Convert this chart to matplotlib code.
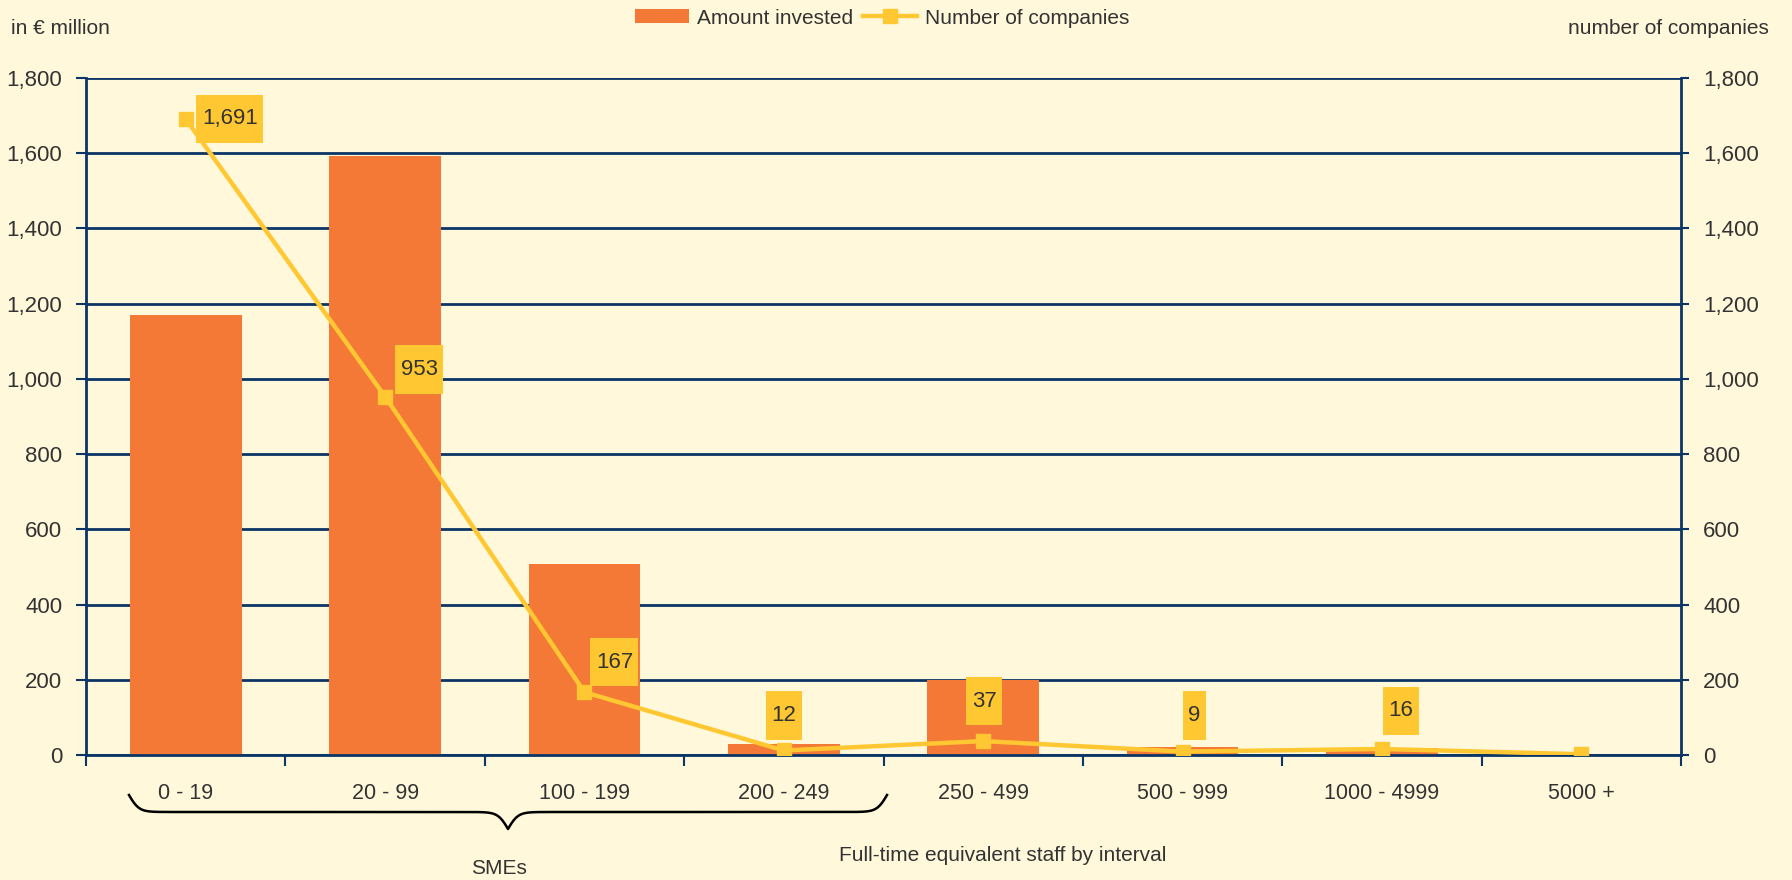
import numpy as np
import matplotlib
matplotlib.use("Agg")
import matplotlib.pyplot as plt
from matplotlib.path import Path
from matplotlib.lines import Line2D

plt.rcParams['font.family'] = ['Liberation Sans', 'DejaVu Sans']
plt.rcParams['font.size'] = 15

# data
categories = ['0 - 19', '20 - 99', '100 - 199', '200 - 249', '250 - 499',
              '500 - 999', '1000 - 4999', '5000 +']
amount_invested = [1171, 1592, 508, 29, 200, 22, 18, 0]      # in EUR million
num_companies = [1691, 953, 167, 12, 37, 9, 16, 2]
num_labels = ['1,691', '953', '167', '12', '37', '9', '16', None]

# label offsets from the marker, in pixels (dx, dy)
label_offsets = [(44, 0), (34, 27), (30, 30), (0, 35), (1, 40), (12, 36), (19, 38), (0, 0)]

BG = '#FFF8DA'
ORANGE = '#F47936'
YELLOW = '#FFC832'
NAVY = '#0B3566'
TXT = '#333333'

fig = plt.figure(figsize=(17.92, 8.8), dpi=100, facecolor=BG)
ax = fig.add_axes([86 / 1792, 1 - 755 / 880, (1681 - 86) / 1792, (755 - 78) / 880])
ax.set_facecolor(BG)
x = np.arange(len(categories))

bars = ax.bar(x, amount_invested, width=0.56, color=ORANGE, zorder=2, label='Amount invested')
ax.set_xlim(-0.5, len(categories) - 0.5)
ax.set_ylim(0, 1800)
ax.set_yticks(np.arange(0, 1801, 200))
ax.set_yticklabels([f'{v:,}' for v in range(0, 1801, 200)])
ax.grid(axis='y', color=NAVY, linewidth=2, zorder=0)
ax.set_axisbelow(True)

ax.set_xticks(x)
ax.set_xticklabels(categories)
ax.set_xticks(np.arange(-0.5, len(categories)), minor=True)
ax.tick_params(axis='x', which='major', length=0, pad=20, colors=TXT, labelsize=15.5)
ax.tick_params(axis='x', which='minor', length=8, width=1.5, color=NAVY)
ax.tick_params(axis='y', length=7, width=1.5, color=NAVY, labelcolor=TXT, pad=10, labelsize=16)
for s in ['left', 'right', 'bottom', 'top']:
    ax.spines[s].set_color(NAVY)
    ax.spines[s].set_linewidth(2)
ax.spines['top'].set_visible(False)

ax2 = ax.twinx()
ax2.set_ylim(0, 1800)
ax2.set_yticks(np.arange(0, 1801, 200))
ax2.set_yticklabels([f'{v:,}' for v in range(0, 1801, 200)])
ax2.tick_params(axis='y', length=6, width=1.5, color=NAVY, labelcolor=TXT, pad=10, labelsize=16)
for s in ['left', 'right', 'bottom', 'top']:
    ax2.spines[s].set_visible(False)

line, = ax2.plot(x, num_companies, color=YELLOW, linewidth=3.2, marker='s', markersize=10,
                 markerfacecolor=YELLOW, markeredgecolor=YELLOW, zorder=3,
                 label='Number of companies')


def tall_box(x0, y0, width, height, mutation_size):
    px = 0.24 * mutation_size
    py = 0.62 * mutation_size
    x0 -= px
    y0 -= py
    x1 = x0 + width + 2 * px
    y1 = y0 + height + 2 * py
    return Path([(x0, y0), (x1, y0), (x1, y1), (x0, y1), (x0, y0)], closed=True)


for i, (v, lab) in enumerate(zip(num_companies, num_labels)):
    if lab is None:
        continue
    dx, dy = label_offsets[i]
    ax2.annotate(lab, xy=(i, v), xytext=(dx, dy), textcoords='offset pixels',
                 ha='center', va='center', fontsize=16, color=TXT, zorder=5,
                 bbox=dict(boxstyle=tall_box, facecolor=YELLOW, edgecolor='none'))

# axis titles
fig.text(11 / 1792, 1 - 29 / 880, 'in € million', ha='left', va='center', fontsize=15, color=TXT)
fig.text(1769 / 1792, 1 - 28 / 880, 'number of companies', ha='right', va='center',
         fontsize=15, color=TXT)
fig.text(1003 / 1792, 1 - 855 / 880, 'Full-time equivalent staff by interval', ha='center',
         va='center', fontsize=15, color=TXT)
fig.text(499 / 1792, 1 - 868 / 880, 'SMEs', ha='center', va='center', fontsize=15, color=TXT)

# brace under the SME categories (figure pixels)
L = 379.0
xs = np.linspace(0, L, 200)
beta = 0.2
s = 1 / (1 + np.exp(-beta * xs)) + 1 / (1 + np.exp(-beta * (xs - L)))
half_y = 795 + (s - 0.5) * 34
bx = np.concatenate([129 + xs, 129 + L + xs[1:]])
by = np.concatenate([half_y, half_y[::-1][1:]])
fig.add_artist(Line2D(bx / 1792, 1 - by / 880, color='black', linewidth=1.8,
                      transform=fig.transFigure))

fig.legend(handles=[bars, line], labels=['Amount invested', 'Number of companies'],
           loc='center', bbox_to_anchor=(882 / 1792, 1 - 18 / 880), ncol=2, frameon=False,
           fontsize=15, handlelength=2.6, handletextpad=0.35, columnspacing=0.5,
           labelcolor=TXT)

fig.savefig('out.png', dpi=100, facecolor=BG)
